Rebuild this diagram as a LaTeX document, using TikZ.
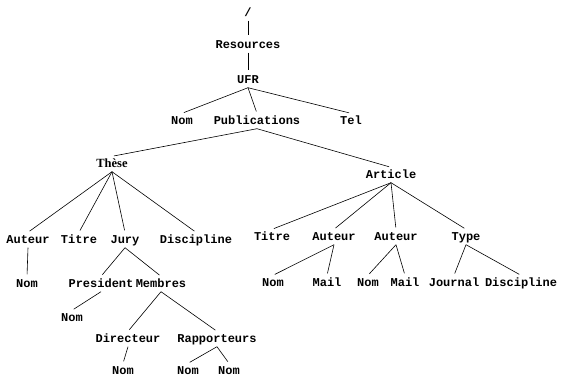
\documentclass[tikz,border=0pt]{standalone}
\usepackage{fontspec}
\setmainfont{Liberation Serif}
\setmonofont{Liberation Mono}
\begin{document}
\begin{tikzpicture}[x=1pt,y=-1pt,
    elem/.style={font=\fontsize{12}{14}\selectfont\ttfamily\bfseries,
      inner sep=3pt,text height=8pt,text depth=1pt},
    docelem/.style={elem,font=\fontsize{12.5}{14}\selectfont\rmfamily\bfseries},
    branch/.style={draw=black,line width=0.6pt,shorten >=2pt}]
  \useasboundingbox (0,0) rectangle (562,376);
  % top of the tree
  \node[elem] (root) at (248,13) {/};
  \node[elem] (res) at (248,45) {Resources};
  \node[elem] (ufr) at (248,80) {UFR};
  \node[elem] (ufrnom) at (182,121) {Nom};
  \node[elem] (pub) at (257,121) {Publications};
  \node[elem] (tel) at (351,121) {Tel};
  \node[docelem] (these) at (112,164) {Thèse};
  \node[elem] (art) at (391,175) {Article};
  % children of Thèse
  \node[elem] (thaut) at (28,240) {Auteur};
  \node[elem] (thtit) at (79,240) {Titre};
  \node[elem] (jury) at (125,240) {Jury};
  \node[elem] (thdisc) at (196,240) {Discipline};
  \node[elem] (thautnom) at (27,284) {Nom};
  \node[elem] (pres) at (101,284) {President};
  \node[elem] (memb) at (161,284) {Membres};
  \node[elem] (presnom) at (72,318) {Nom};
  \node[elem] (dir) at (128,339) {Directeur};
  \node[elem] (rap) at (217,339) {Rapporteurs};
  \node[elem] (dirnom) at (123,371) {Nom};
  \node[elem] (rapnomi) at (188,371) {Nom};
  \node[elem] (rapnomii) at (229,371) {Nom};
  % children of Article
  \node[elem] (arttit) at (272,237) {Titre};
  \node[elem] (autone) at (334,237) {Auteur};
  \node[elem] (auttwo) at (396,237) {Auteur};
  \node[elem] (type) at (466,237) {Type};
  \node[elem] (autonenom) at (273,283) {Nom};
  \node[elem] (autonemail) at (327,283) {Mail};
  \node[elem] (auttwonom) at (368,283) {Nom};
  \node[elem] (auttwomail) at (405,283) {Mail};
  \node[elem] (journal) at (454,283) {Journal};
  \node[elem] (typedisc) at (521,283) {Discipline};
  % branches
  \draw[branch] (root.south) -- (res.north);
  \draw[branch] (res.south) -- (ufr.north);
  \draw[branch] (ufr.south) -- (ufrnom.north);
  \draw[branch] (ufr.south) -- (pub.north);
  \draw[branch] (ufr.south) -- (tel.north);
  \draw[branch] (pub.south) -- (these.north);
  \draw[branch] (pub.south) -- (art.north);
  \draw[branch] (these.south) -- (thaut.north);
  \draw[branch] (these.south) -- (thtit.north);
  \draw[branch] (these.south) -- (jury.north);
  \draw[branch] (these.south) -- (thdisc.north);
  \draw[branch] (thaut.south) -- (thautnom.north);
  \draw[branch] (jury.south) -- (pres.north);
  \draw[branch] (jury.south) -- (memb.north);
  \draw[branch] (pres.south) -- (presnom.north);
  \draw[branch] (memb.south) -- (dir.north);
  \draw[branch] (memb.south) -- (rap.north);
  \draw[branch] (dir.south) -- (dirnom.north);
  \draw[branch] (rap.south) -- (rapnomi.north);
  \draw[branch] (rap.south) -- (rapnomii.north);
  \draw[branch] (art.south) -- (arttit.north);
  \draw[branch] (art.south) -- (autone.north);
  \draw[branch] (art.south) -- (auttwo.north);
  \draw[branch] (art.south) -- (type.north);
  \draw[branch] (autone.south) -- (autonenom.north);
  \draw[branch] (autone.south) -- (autonemail.north);
  \draw[branch] (auttwo.south) -- (auttwonom.north);
  \draw[branch] (auttwo.south) -- (auttwomail.north);
  \draw[branch] (type.south) -- (journal.north);
  \draw[branch] (type.south) -- (typedisc.north);
\end{tikzpicture}
\end{document}
